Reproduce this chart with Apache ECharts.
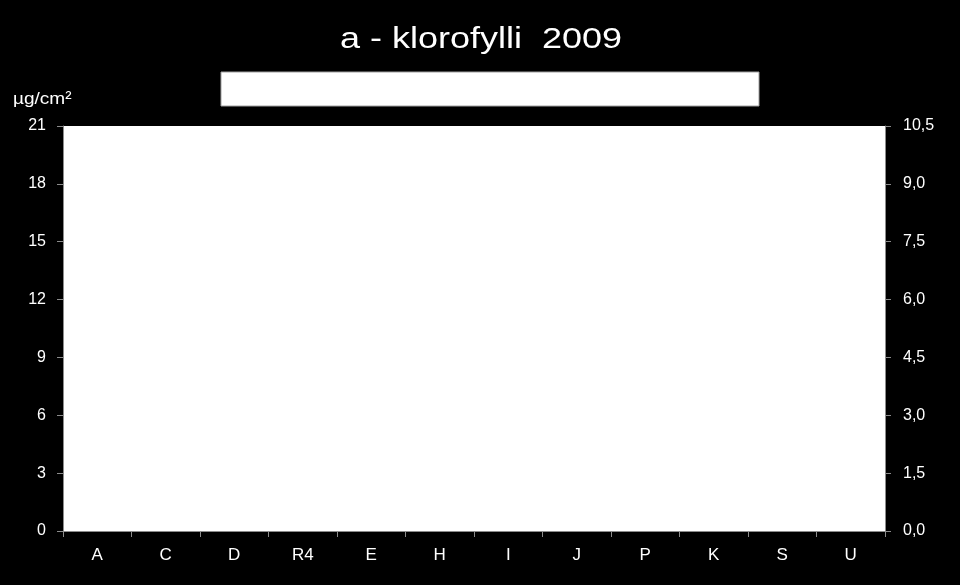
<!DOCTYPE html>
<html><head><meta charset="utf-8">
<script src="https://cdn.jsdelivr.net/npm/echarts@6/dist/echarts.min.js"></script>
<style>html,body{margin:0;padding:0;background:#000;}#c{width:960px;height:585px;}</style>
</head><body><div id="c"></div>
<script>
var titleText = 'a - klorofylli  2009';
var unitText = 'µg/cm²';
var categories = ['A','C','D','R4','E','H','I','J','P','K','S','U'];
// No marks are visible in the reference: values are empty
var leftValues = [null,null,null,null,null,null,null,null,null,null,null,null];
var rightValues = [null,null,null,null,null,null,null,null,null,null,null,null];
var leftTicks = {min:0, max:21, interval:3};
var rightTicks = {min:0, max:10.5, interval:1.5};

var chart = echarts.init(document.getElementById('c'));
var font = 'Liberation Sans, Arial, sans-serif';
var axisCol = '#8c8c8c';
chart.setOption({
  backgroundColor:'#000',
  animation:false,
  graphic:[
    {type:'text', x:481, y:40, scaleX:1.2,
      style:{text:titleText, fill:'#fff', fontSize:30, fontFamily:font, textAlign:'center', textVerticalAlign:'middle'}},
    {type:'rect', shape:{x:221,y:72,width:538,height:34}, style:{fill:'#fff', stroke:'#a0a0a0', lineWidth:1}},
    {type:'text', x:13, y:99, scaleX:1.12,
      style:{text:unitText, fill:'#fff', fontSize:17, fontFamily:font, textAlign:'left', textVerticalAlign:'middle'}}
  ],
  grid:{left:63, right:75, top:126, bottom:54, show:true, backgroundColor:'#fff', borderWidth:0},
  xAxis:{type:'category', data:categories, boundaryGap:true,
    axisLine:{lineStyle:{color:axisCol, width:1}},
    axisTick:{show:true, alignWithLabel:false, length:6, lineStyle:{color:axisCol}},
    axisLabel:{color:'#fff', fontSize:17, fontFamily:font, margin:16},
    splitLine:{show:false}},
  yAxis:[
    {type:'value', min:leftTicks.min, max:leftTicks.max, interval:leftTicks.interval,
      axisLine:{show:true, lineStyle:{color:axisCol}},
      axisTick:{show:true, length:6, lineStyle:{color:axisCol}},
      axisLabel:{color:'#fff', fontSize:16, fontFamily:font, margin:17},
      splitLine:{show:false}},
    {type:'value', position:'right', min:rightTicks.min, max:rightTicks.max, interval:rightTicks.interval,
      axisLine:{show:true, lineStyle:{color:axisCol}},
      axisTick:{show:true, length:6, lineStyle:{color:axisCol}},
      axisLabel:{color:'#fff', fontSize:16, fontFamily:font, margin:18,
        formatter:function(v){return v.toFixed(1).replace('.',',');}},
      splitLine:{show:false}}
  ],
  series:[
    {type:'bar', name:'left', yAxisIndex:0, data:leftValues},
    {type:'bar', name:'right', yAxisIndex:1, data:rightValues}
  ]
});
</script></body></html>
